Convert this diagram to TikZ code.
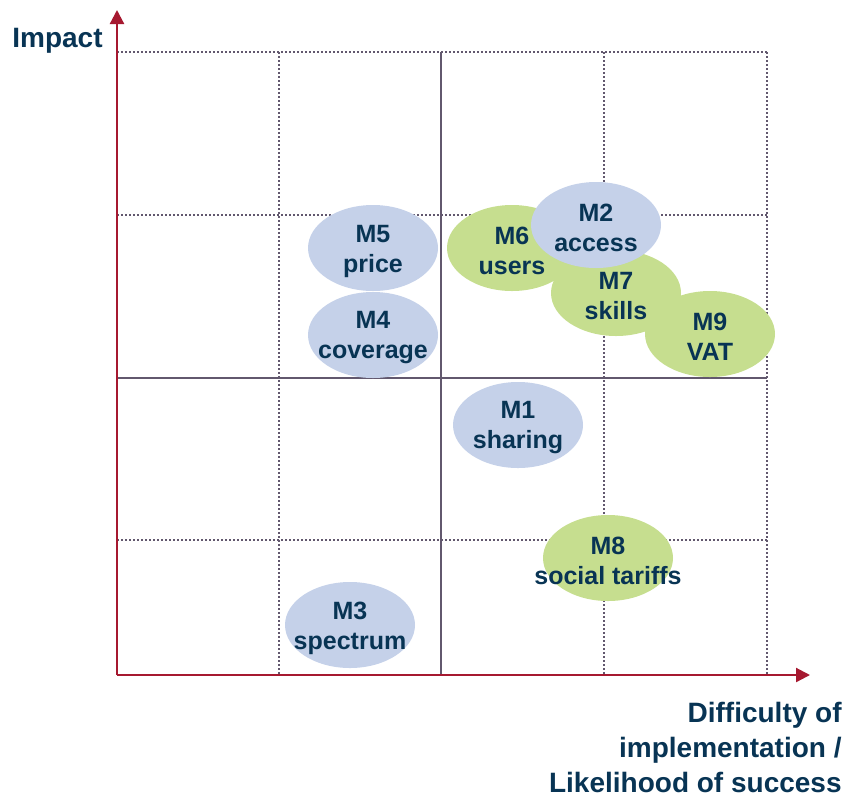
\documentclass[tikz,border=0pt]{standalone}
\usepackage{fontspec}
\setmainfont{Liberation Sans}
\usetikzlibrary{arrows.meta,shapes.geometric}

\definecolor{navy}{RGB}{8,52,84}
\definecolor{axisred}{RGB}{166,25,48}
\definecolor{gridgray}{RGB}{98,88,110}
\definecolor{bubbleblue}{RGB}{197,209,233}
\definecolor{bubblegreen}{RGB}{198,222,143}

\tikzset{
  bubble/.style={ellipse, minimum width=65pt, minimum height=43pt, inner sep=0pt},
  bluebubble/.style={bubble, fill=bubbleblue},
  greenbubble/.style={bubble, fill=bubblegreen},
  bubbletext/.style={align=center, inner sep=0pt, text=navy, yshift=-1.5pt,
    font=\fontsize{12.5}{15}\selectfont\bfseries},
  axislabel/.style={inner sep=0pt, text=navy,
    font=\fontsize{14}{17.5}\selectfont\bfseries},
  gridline/.style={gridgray, line width=0.75pt, dash pattern=on 0.75pt off 1.25pt},
  midline/.style={gridgray, line width=1pt},
  axis/.style={axisred, line width=1.1pt, -{Triangle[length=7pt,width=7pt]}},
}

\begin{document}
\begin{tikzpicture}[x=0.5pt, y=-0.5pt]
    \useasboundingbox (0,0) rectangle (845,799);

    % Grid
    \foreach \gx in {279,604,767}
        \draw[gridline] (\gx,52) -- (\gx,675);
    \foreach \gy in {52,215,540}
        \draw[gridline] (117,\gy) -- (767,\gy);
    \draw[midline] (441,52) -- (441,675);
    \draw[midline] (117,378) -- (767,378);

    % Axes
    \coordinate (origin) at (117,675);
    \coordinate (ytip) at (117,10);
    \coordinate (xtip) at (810,675);
    \draw[axis] (origin) -- (ytip);
    \draw[axis] (origin) -- (xtip);
    \node[axislabel, anchor=base east] (impact) at (103,47) {Impact};
    \node[axislabel, anchor=north east, align=right] (difficulty) at (842,702)
        {Difficulty of\\implementation /\\Likelihood of success};

    % Measures
    \node[bluebubble] (m5) at (373,248) {};
    \node[bubbletext] at (m5) {M5\\price};
    \node[bluebubble] (m4) at (373,335) {};
    \node[bubbletext] at (m4) {M4\\coverage};
    \node[bluebubble] (m3) at (350,625) {};
    \node[bubbletext] at (m3) {M3\\spectrum};
    \node[bluebubble] (m1) at (518,425) {};
    \node[bubbletext] at (m1) {M1\\sharing};
    \node[greenbubble] (m8) at (608,558) {};
    \node[bubbletext] at (m8) {M8\\social tariffs};
    \node[greenbubble] (m6) at (512,248) {};
    \node[bubbletext] at (m6) {M6\\users};
    \node[greenbubble] (m7) at (616,293) {};
    \node[bubbletext] at (m7) {M7\\skills};
    \node[greenbubble] (m9) at (710,334) {};
    \node[bubbletext] at (m9) {M9\\VAT};
    \node[bluebubble] (m2) at (596,225) {};
    \node[bubbletext] at (m2) {M2\\access};
\end{tikzpicture}
\end{document}
